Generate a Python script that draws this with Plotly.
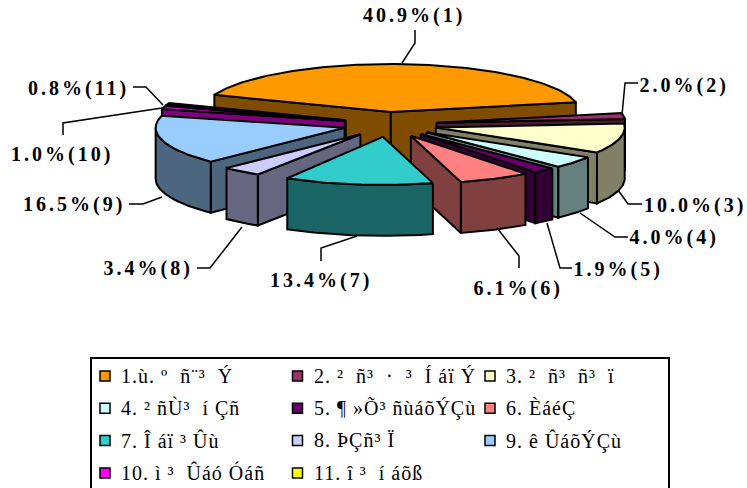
"""
Camembert 3D éclaté (parts par région) dessiné avec des polygones Plotly
"""
import numpy as np
import plotly.graph_objects as go

# Parts en %
SHARES = [40.9, 2.0, 10.0, 4.0, 1.9, 6.1, 13.4, 3.4, 16.5, 1.0, 0.8]

# Noms de la légende (police arménienne d'origine mal décodée)
NAMES = [
    '1.ù. º\u00a0 ñ¨³\u00a0 Ý', '2. ²\u00a0 ñ³\u00a0 ·\u00a0 ³\u00a0 Í áï Ý', '3. ²\u00a0 ñ³\u00a0 ñ³\u00a0 ï',
    '4. ² ñÙ³\u00a0 í Çñ', '5. ¶ »Õ³ ñùáõÝÇù', '6. ÈáéÇ',
    '7. Î áï ³ Ûù', '8. ÞÇñ³ Ï', '9. ê ÛáõÝÇù',
    '10. ì ³\u00a0 Ûáó Óáñ', '11. î ³\u00a0 í áõß',
]

COLORS = ['#FF9900', '#993366', '#FFFFCC', '#CCFFFF', '#660066', '#FF8080',
          '#33CCCC', '#CCCCFF', '#99CCFF', '#FF00FF', '#FFFF00']
WALLS = ['#804D00', '#4D1A33', '#808066', '#668080', '#330033', '#804040',
         '#1A6666', '#666680', '#4D6680', '#800080', '#000000']
# Le dessus de la part 11 est si fin qu'il paraît noir
TOPS = COLORS[:10] + ['#000000']

# Ordre de dessin, du fond vers l'avant
DRAW_ORDER = [0, 1, 10, 9, 2, 8, 3, 7, 4, 5, 6]

# Géométrie du camembert (pixels)
CENTER_X, CENTER_Y = 390, 124.5
RADIUS_X, RADIUS_Y = 189, 48
EXPLODE_X, EXPLODE_Y = 47, 12.5
DEPTH = 51
START_ANGLE = -69

# Petites corrections de la perspective par part (parts 1 et 7)
APEX_DX = {0: -3}
END_ANGLE_DX = {6: -2.5}

# Traits de rappel et position des étiquettes
LEADER_X = [[402, 415, 415], [622, 625, 638], [618, 628, 642], [580, 615, 628],
            [547, 560, 572], [497, 519, 519], [357, 321, 321], [242, 210, 197],
            [162, 143, 129], [162, 63, 63], [163, 146, 133]]
LEADER_Y = [[63, 43, 30], [115, 83, 83], [190, 204, 204], [213, 237, 237],
            [223, 268, 268], [228, 256, 268], [236, 248, 261], [227, 268, 268],
            [197, 204, 204], [108, 123, 135], [105, 87, 87]]
LABEL_X = [414, 684, 695, 674, 618, 518, 321, 148, 74, 62, 78]
LABEL_Y = [15, 85, 205, 237, 269, 288, 280, 268, 204, 154, 88]


def add_polygon(fig, xs, ys, color):
    fig.add_trace(go.Scatter(
        x=xs, y=ys, mode='lines', fill='toself', fillcolor=color,
        line=dict(color='black', width=2), hoverinfo='skip', showlegend=False
    ))


def arc(apex_x, apex_y, a1, a2):
    angles = np.radians(np.linspace(a1, a2, max(int(abs(a2 - a1)) + 2, 2)))
    return apex_x + RADIUS_X * np.sin(angles), apex_y - RADIUS_Y * np.cos(angles)


def add_slice(fig, i, a1, a2):
    mid = np.radians((a1 + a2) / 2)
    apex_x = CENTER_X + EXPLODE_X * np.sin(mid) + APEX_DX.get(i, 0)
    apex_y = CENTER_Y - EXPLODE_Y * np.cos(mid)
    a2 = a2 + END_ANGLE_DX.get(i, 0)

    # Faces radiales visibles
    for angle, normal in ((a1, a1 - 90), (a2, a2 + 90)):
        if np.cos(np.radians(normal)) < 0:
            ex, ey = arc(apex_x, apex_y, angle, angle)
            add_polygon(fig,
                        [apex_x, ex[0], ex[0], apex_x, apex_x],
                        [apex_y, ey[0], ey[0] + DEPTH, apex_y + DEPTH, apex_y],
                        WALLS[i])

    # Paroi extérieure (partie avant seulement)
    low, high = max(a1, 90), min(a2, 270)
    if low < high:
        ax, ay = arc(apex_x, apex_y, low, high)
        add_polygon(fig,
                    list(ax) + list(ax[::-1]) + [ax[0]],
                    list(ay) + list(ay[::-1] + DEPTH) + [ay[0]],
                    WALLS[i])

    # Dessus
    tx, ty = arc(apex_x, apex_y, a1, a2)
    add_polygon(fig,
                [apex_x] + list(tx) + [apex_x],
                [apex_y] + list(ty) + [apex_y],
                TOPS[i])


def create_chart():
    fig = go.Figure()

    bounds = START_ANGLE + np.cumsum([0] + SHARES) * 3.6
    for i in DRAW_ORDER:
        add_slice(fig, i, bounds[i], bounds[i + 1])

    # Traits de rappel et étiquettes
    for i, share in enumerate(SHARES):
        fig.add_trace(go.Scatter(
            x=LEADER_X[i], y=LEADER_Y[i], mode='lines',
            line=dict(color='black', width=1.5), hoverinfo='skip', showlegend=False
        ))
        fig.add_annotation(
            x=LABEL_X[i], y=LABEL_Y[i], text=f'{share:.1f}%({i + 1})', showarrow=False,
            font=dict(family='Liberation Serif', size=20, color='black', weight='bold')
        )

    # Légende : cadre, carrés de couleur et noms
    fig.add_shape(type='rect', x0=91, x1=669, y0=358, y1=495,
                  line=dict(color='black', width=2), fillcolor='white', layer='below')
    for i, name in enumerate(NAMES):
        col, row = i % 3, i // 3
        x = 105 + col * 192.5
        y = 376 + row * 32.3
        fig.add_trace(go.Scatter(
            x=[x], y=[y], mode='markers',
            marker=dict(symbol='square', size=10, color=COLORS[i],
                        line=dict(color='black', width=1.5)),
            hoverinfo='skip', showlegend=False
        ))
        fig.add_annotation(
            x=x + 14, y=y, text=name, showarrow=False, xanchor='left', align='left',
            font=dict(family='Liberation Serif', size=20, color='black')
        )

    fig.update_layout(
        width=747, height=488, autosize=False,
        margin=dict(l=0, r=0, t=0, b=0),
        paper_bgcolor='white', plot_bgcolor='white',
        xaxis=dict(range=[0, 747], visible=False, fixedrange=True),
        yaxis=dict(range=[488, 0], visible=False, fixedrange=True),
    )
    return fig


fig = create_chart()

# Marge du corps de page à zéro, lettres espacées comme dans l'original
SPACING_JS = """
document.body.style.margin = '0';
document.querySelectorAll('.annotation-text').forEach(function (t) {
    t.style.letterSpacing = t.textContent.indexOf('%') >= 0 ? '3px' : '1px';
});
"""
fig.write_html("out.html", post_script=SPACING_JS, config=dict(displayModeBar=False))
